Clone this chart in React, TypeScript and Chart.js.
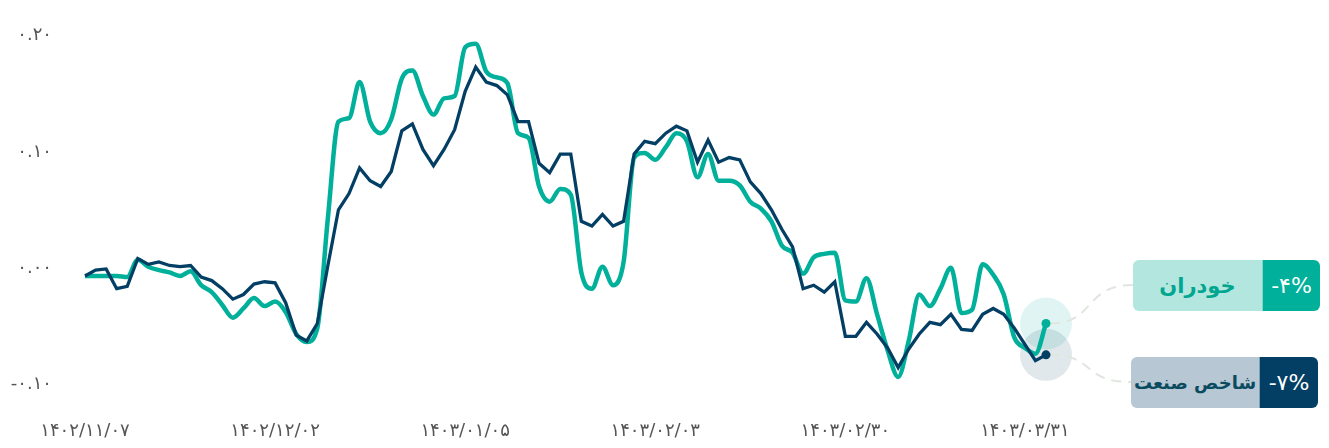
import { useEffect, useRef } from "react";
import { Chart, registerables } from "chart.js";

Chart.register(...registerables);

// series, values (fraction, 0.1 = 10%)
const INDUSTRY = [
  0.0, 0.005, 0.006, -0.011, -0.009, 0.015, 0.01, 0.012, 0.009, 0.008,
  0.009, -0.001, -0.004, -0.011, -0.02, -0.016, -0.007, -0.005, -0.006, -0.023,
  -0.051, -0.056, -0.041, 0.009, 0.057, 0.071, 0.093, 0.082, 0.077, 0.09,
  0.125, 0.131, 0.109, 0.095, 0.109, 0.126, 0.159, 0.18, 0.167, 0.164,
  0.156, 0.133, 0.133, 0.097, 0.089, 0.105, 0.105, 0.047, 0.043, 0.053,
  0.043, 0.047, 0.105, 0.116, 0.114, 0.123, 0.129, 0.125, 0.098, 0.117,
  0.098, 0.102, 0.1, 0.081, 0.071, 0.057, 0.04, 0.025, -0.011, -0.008,
  -0.014, -0.005, -0.052, -0.052, -0.04, -0.05, -0.062, -0.079, -0.063, -0.05,
  -0.04, -0.042, -0.033, -0.046, -0.047, -0.033, -0.028, -0.033, -0.045, -0.059,
  -0.073, -0.068,
];

const AUTO = [
  0.0, 0.0, 0.0, 0.0, -0.001, 0.014, 0.008, 0.005, 0.003, 0.0,
  0.004, -0.008, -0.014, -0.025, -0.036, -0.028, -0.019, -0.026, -0.022, -0.031,
  -0.05, -0.057, -0.045, 0.05, 0.133, 0.136, 0.167, 0.133, 0.123, 0.135,
  0.17, 0.177, 0.155, 0.139, 0.153, 0.155, 0.197, 0.2, 0.176, 0.171,
  0.166, 0.123, 0.119, 0.077, 0.064, 0.075, 0.07, 0.003, -0.011, 0.008,
  -0.008, 0.012, 0.102, 0.106, 0.1, 0.111, 0.123, 0.116, 0.085, 0.105,
  0.082, 0.082, 0.078, 0.064, 0.058, 0.047, 0.026, 0.02, 0.002, 0.016,
  0.019, 0.02, -0.021, -0.022, -0.002, -0.033, -0.064, -0.087, -0.056, -0.016,
  -0.026, -0.011, 0.007, -0.032, -0.029, 0.01, 0.001, -0.016, -0.053, -0.062,
  -0.067, -0.041,
];

const TICK_INDEX = [0, 18, 36, 54, 72, 89];
const TICK_LABELS = [
  "۱۴۰۲/۱۱/۰۷",
  "۱۴۰۲/۱۲/۰۲",
  "۱۴۰۳/۰۱/۰۵",
  "۱۴۰۳/۰۲/۰۳",
  "۱۴۰۳/۰۲/۳۰",
  "۱۴۰۳/۰۳/۳۱",
];

const SERIES_NAMES = ["خودران", "شاخص صنعت"];
const SERIES_PCT = ["-۴%", "-۷%"];

const GREEN = "#00b09b";
const NAVY = "#033e64";

const toFa = (s: string) => s.replace(/\d/g, (d) => "۰۱۲۳۴۵۶۷۸۹"[+d]);

// boxes on the right
const BOXES = [
  { left: 1133, top: 260, split: 129, width: 187, light: "#b3e6de", dark: GREEN, text: "#00a68f", size: 21 },
  { left: 1131, top: 357, split: 128, width: 187, light: "#b8c7d4", dark: NAVY, text: "#0b4b5f", size: 18 },
];

const endDecor = {
  id: "endDecor",
  beforeDatasetsDraw(chart: any) {
    const ctx = chart.ctx;
    const fills = ["rgba(2,62,100,0.12)", "rgba(0,176,155,0.12)"];
    const targets = [382, 285];
    const boxLeft = [1131, 1133];
    [1, 0].forEach((di) => {
      const meta = chart.getDatasetMeta(di);
      const pt = meta.data[meta.data.length - 1];
      if (!pt) return;
      ctx.save();
      ctx.fillStyle = fills[di];
      ctx.beginPath();
      ctx.arc(pt.x, pt.y, 26, 0, Math.PI * 2);
      ctx.fill();
      ctx.restore();
    });
    [0, 1].forEach((di) => {
      const meta = chart.getDatasetMeta(di);
      const pt = meta.data[meta.data.length - 1];
      if (!pt) return;
      const tx = boxLeft[di];
      const ty = targets[di];
      ctx.save();
      ctx.strokeStyle = "#dfe6de";
      ctx.lineWidth = 2;
      ctx.setLineDash([10, 7]);
      ctx.beginPath();
      ctx.moveTo(pt.x + 4, pt.y);
      ctx.bezierCurveTo(pt.x + 50, pt.y, tx - 50, ty, tx, ty);
      ctx.stroke();
      ctx.restore();
    });
  },
};

export default function App() {
  const canvasRef = useRef<HTMLCanvasElement>(null);
  const chartRef = useRef<any>(null);

  useEffect(() => {
    document.body.style.margin = "0";
    if (!canvasRef.current) return;
    if (chartRef.current) chartRef.current.destroy();

    const last = AUTO.length - 1;
    const labels = AUTO.map((_, i) => i);

    chartRef.current = new Chart(canvasRef.current, {
      type: "line",
      data: {
        labels,
        datasets: [
          {
            label: SERIES_NAMES[1],
            data: INDUSTRY,
            borderColor: NAVY,
            backgroundColor: NAVY,
            borderWidth: 3.3,
            tension: 0,
            pointRadius: (c: any) => (c.dataIndex === last ? 4.5 : 0),
            pointBorderWidth: 0,
            clip: false,
          } as any,
          {
            label: SERIES_NAMES[0],
            data: AUTO,
            borderColor: GREEN,
            backgroundColor: GREEN,
            borderWidth: 4.5,
            cubicInterpolationMode: "monotone",
            pointRadius: (c: any) => (c.dataIndex === last ? 4.5 : 0),
            pointBorderWidth: 0,
            clip: false,
          } as any,
        ],
      },
      options: {
        animation: false,
        responsive: true,
        maintainAspectRatio: false,
        layout: { padding: { left: 0, right: 283, top: 37, bottom: 0 } },
        plugins: {
          legend: { display: false },
          tooltip: { enabled: false },
        },
        scales: {
          x: {
            offset: false,
            grid: { display: false, drawTicks: false },
            border: { display: false },
            afterFit: (s: any) => {
              s.height = 56;
            },
            ticks: {
              autoSkip: false,
              maxRotation: 0,
              padding: 29,
              color: "#555",
              font: { family: "DejaVu Sans", size: 18 },
              callback: (_v: any, i: number) => {
                const k = TICK_INDEX.indexOf(i);
                return k >= 0 ? TICK_LABELS[k] : "";
              },
            },
          },
          y: {
            min: -0.1,
            max: 0.2,
            afterFit: (s: any) => {
              s.width = 85;
            },
            grid: {
              drawTicks: false,
              lineWidth: 1.5,
              color: (c: any) => (c.tick && c.tick.value === 0 ? "#d6d6d6" : "rgba(0,0,0,0)"),
            },
            border: { display: false },
            ticks: {
              stepSize: 0.1,
              padding: 33,
              labelOffset: -8,
              color: "#555",
              font: { family: "DejaVu Sans", size: 18 },
              callback: (v: any) => toFa(Number(v).toFixed(2)),
            },
          },
        },
      },
      plugins: [endDecor],
    } as any);

    return () => {
      if (chartRef.current) {
        chartRef.current.destroy();
        chartRef.current = null;
      }
    };
  }, []);

  return (
    <div style={{ position: "relative", width: 1329, height: 448, fontFamily: "DejaVu Sans" }}>
      <canvas ref={canvasRef} />
      {BOXES.map((b, i) => (
        <div
          key={i}
          style={{
            position: "absolute",
            left: b.left,
            top: b.top,
            width: b.width,
            height: 51,
            borderRadius: 6,
            overflow: "hidden",
            display: "flex",
          }}
        >
          <div
            dir="rtl"
            style={{
              width: b.split,
              background: b.light,
              color: b.text,
              fontWeight: "bold",
              fontSize: b.size,
              whiteSpace: "nowrap",
              display: "flex",
              alignItems: "center",
              justifyContent: "center",
            }}
          >
            {SERIES_NAMES[i]}
          </div>
          <div
            dir="ltr"
            style={{
              flex: 1,
              background: b.dark,
              color: "#fff",
              fontSize: 22,
              display: "flex",
              alignItems: "center",
              justifyContent: "center",
              borderLeft: "1px solid rgba(255,255,255,0.5)",
            }}
          >
            {SERIES_PCT[i]}
          </div>
        </div>
      ))}
    </div>
  );
}
